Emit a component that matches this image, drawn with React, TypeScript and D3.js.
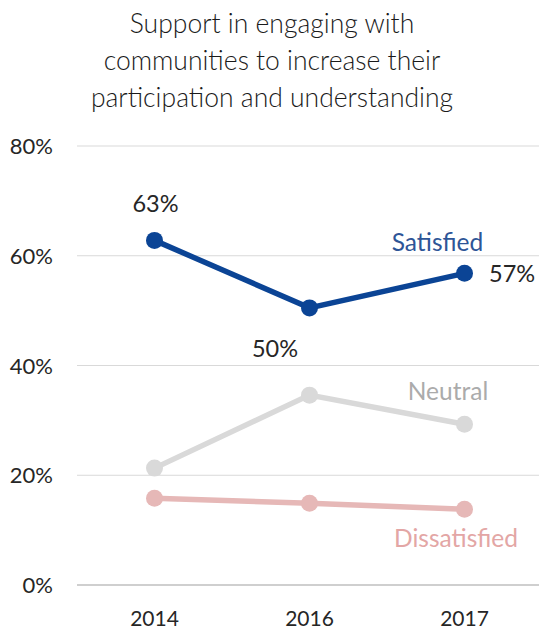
import React from "react";
import * as d3 from "d3";

const years = ["2014", "2016", "2017"];
const satisfied = [62.8, 50.5, 56.8];
const neutral = [21.3, 34.6, 29.3];
const dissatisfied = [15.8, 14.9, 13.8];
const yTicks = [0, 20, 40, 60, 80];
const titleLines = [
  "Support in engaging with",
  "communities to increase their",
  "participation and understanding",
];
const satLabels = ["63%", "50%", "57%"];

const W = 539;
const H = 629;
const FONT = "Lato, 'Open Sans', sans-serif";

export default function App() {
  const x = d3.scaleBand<string>().domain(years).range([77, 542]);
  const y = d3.scaleLinear().domain([0, 80]).range([585, 146]);
  const cx = (d: string) => (x(d) as number) + x.bandwidth() / 2;
  const line = d3
    .line<number>()
    .x((_, i) => cx(years[i]))
    .y((v) => y(v));

  const series = [
    { name: "Satisfied", values: satisfied, color: "#0B4495", labelColor: "#2E5597" },
    { name: "Neutral", values: neutral, color: "#D9D9D9", labelColor: "#ABABAB" },
    { name: "Dissatisfied", values: dissatisfied, color: "#E6B8B7", labelColor: "#E3A6A5" },
  ];

  return (
    <svg
      width={W}
      height={H}
      style={{ position: "absolute", left: 0, top: 0, background: "#fff" }}
      fontFamily={FONT}
    >
      {titleLines.map((t, i) => (
        <text
          key={i}
          x={272}
          y={33 + i * 37}
          textAnchor="middle"
          fontSize={26.5}
          fontWeight={300}
          fill="#1a1a1a"
        >
          {t}
        </text>
      ))}
      {yTicks.map((t) => (
        <g key={t}>
          <line
            x1={77}
            x2={539}
            y1={y(t)}
            y2={y(t)}
            stroke={t === 0 ? "#BFBFBF" : "#D9D9D9"}
            strokeWidth={t === 0 ? 1.5 : 1.2}
          />
          <text x={53} y={y(t) + 8} textAnchor="end" fontSize={22} fill="#262626">
            {t}%
          </text>
        </g>
      ))}
      {years.map((yr) => (
        <text key={yr} x={cx(yr)} y={626} textAnchor="middle" fontSize={21} fill="#262626">
          {yr}
        </text>
      ))}
      {series
        .slice()
        .reverse()
        .map((s) => (
          <g key={s.name}>
            <path d={line(s.values) || ""} fill="none" stroke={s.color} strokeWidth={5.5} />
            {s.values.map((v, i) => (
              <circle key={i} cx={cx(years[i])} cy={y(v)} r={8.5} fill={s.color} />
            ))}
          </g>
        ))}
      <text x={155.5} y={212} textAnchor="middle" fontSize={23.5} fill="#262626">
        {satLabels[0]}
      </text>
      <text x={275} y={357} textAnchor="middle" fontSize={23.5} fill="#262626">
        {satLabels[1]}
      </text>
      <text x={489} y={282} textAnchor="start" fontSize={23.5} fill="#262626">
        {satLabels[2]}
      </text>
      <text x={437.5} y={251} textAnchor="middle" fontSize={24.5} fill={series[0].labelColor}>
        Satisfied
      </text>
      <text x={448} y={400} textAnchor="middle" fontSize={24.5} fill={series[1].labelColor}>
        Neutral
      </text>
      <text x={456} y={547} textAnchor="middle" fontSize={24.5} fill={series[2].labelColor}>
        Dissatisfied
      </text>
    </svg>
  );
}
